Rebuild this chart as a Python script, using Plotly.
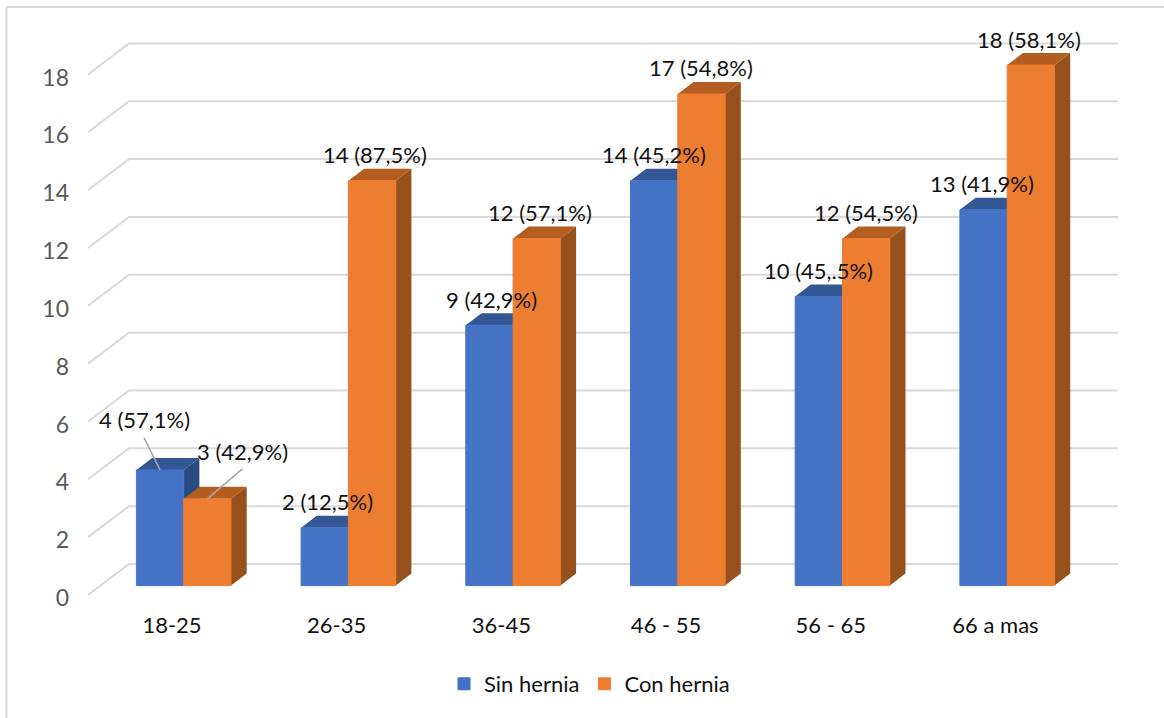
import plotly.graph_objects as go

# Chart data
categories = ["18-25", "26-35", "36-45", "46 - 55", "56 - 65", "66 a mas"]
sin_hernia = [4, 2, 9, 14, 10, 13]
con_hernia = [3, 14, 12, 17, 12, 18]
sin_labels = ["4 (57,1%)", "2 (12,5%)", "9 (42,9%)", "14 (45,2%)", "10 (45,.5%)", "13 (41,9%)"]
con_labels = ["3 (42,9%)", "14 (87,5%)", "12 (57,1%)", "17 (54,8%)", "12 (54,5%)", "18 (58,1%)"]
axis_ticks = [0, 2, 4, 6, 8, 10, 12, 14, 16, 18]

# Page geometry, in pixels
WIDTH, HEIGHT = 1164, 718
LEFT, RIGHT, TOP, BOTTOM = 72, 1150, 20, 608
PX_PER_CAT = 164.7
PX_PER_UNIT = 28.92
TICK_ZERO_X, TICK_ZERO_Y = 172, 598      # axis plane: category labels and value ticks
BAR_ZERO_X, BAR_ZERO_Y = 183.7, 585.6    # plane of the front of the bars
GRID_LIFT = 3 / PX_PER_UNIT              # wall lines start just above the tick label centres
BAR_W = 47.3 / PX_PER_CAT
DEPTH_X = 15.7 / PX_PER_CAT              # oblique depth of each bar
DEPTH_Y = 12 / PX_PER_UNIT
WALL_X = 41 / PX_PER_CAT                 # oblique depth of the side wall
WALL_Y = 31 / PX_PER_UNIT
WALL_END = (1118 - TICK_ZERO_X) / PX_PER_CAT

GRID = "#d9d9d9"
BLUE, BLUE_TOP, BLUE_SIDE = "#4472c4", "#335694", "#2a4b82"
ORANGE, ORANGE_TOP, ORANGE_SIDE = "#ed7d31", "#b45d20", "#96501c"
FONT = "Lato"
LABEL_SIZE = 22


def x_range(zero):
    return [(LEFT - zero) / PX_PER_CAT, (RIGHT - zero) / PX_PER_CAT]


def y_range(zero):
    return [(zero - BOTTOM) / PX_PER_UNIT, (zero - TOP) / PX_PER_UNIT]


def faces(values, shift):
    """Top and side polygons of one series, as two (x, y) paths."""
    top_x, top_y, side_x, side_y = [], [], [], []
    for i, v in enumerate(values):
        left = i + shift
        right = left + BAR_W
        top_x += [left, right, right + DEPTH_X, left + DEPTH_X, left, None]
        top_y += [v, v, v + DEPTH_Y, v + DEPTH_Y, v, None]
        side_x += [right, right, right + DEPTH_X, right + DEPTH_X, right, None]
        side_y += [0, v, v + DEPTH_Y, DEPTH_Y, 0, None]
    return (top_x, top_y), (side_x, side_y)


fig = go.Figure()

# Back wall and side wall lines
grid_x, grid_y = [], []
for t in axis_ticks:
    grid_x += [-(TICK_ZERO_X - 88) / PX_PER_CAT,
               -(TICK_ZERO_X - 88) / PX_PER_CAT + WALL_X, WALL_END, None]
    grid_y += [t + GRID_LIFT, t + GRID_LIFT + WALL_Y, t + GRID_LIFT + WALL_Y, None]
fig.add_trace(go.Scatter(x=grid_x, y=grid_y, mode="lines", line=dict(color=GRID, width=2),
                         hoverinfo="skip", showlegend=False))

# Oblique faces of the bars, sitting behind the fronts
for values, shift, top_c, side_c in [(sin_hernia, -BAR_W, BLUE_TOP, BLUE_SIDE),
                                     (con_hernia, 0, ORANGE_TOP, ORANGE_SIDE)]:
    top, side = faces(values, shift)
    for (px, py), colour in [(side, side_c), (top, top_c)]:
        fig.add_trace(go.Scatter(x=px, y=py, mode="lines", fill="toself", fillcolor=colour,
                                 line=dict(width=0), hoverinfo="skip", showlegend=False,
                                 xaxis="x2", yaxis="y2"))

# Bar fronts
fig.add_trace(go.Bar(name="Sin hernia", x=list(range(len(categories))), y=sin_hernia,
                     marker=dict(color=BLUE, line=dict(width=1, color=BLUE)),
                     xaxis="x3", yaxis="y3"))
fig.add_trace(go.Bar(name="Con hernia", x=list(range(len(categories))), y=con_hernia,
                     marker=dict(color=ORANGE, line=dict(width=1, color=ORANGE)),
                     xaxis="x3", yaxis="y3"))

# Leader lines for the two labels moved away from their bars
for x0, v, dx, dy in [(-BAR_W / 2, sin_hernia[0], -16, 32),
                      (BAR_W / 2, con_hernia[0], 35, 30)]:
    fig.add_trace(go.Scatter(x=[x0, x0 + dx / PX_PER_CAT], y=[v, v + dy / PX_PER_UNIT],
                             mode="lines", line=dict(color="#a6a6a6", width=1.5),
                             hoverinfo="skip", showlegend=False, xaxis="x3", yaxis="y3"))

# Data labels: pixel offsets from the top centre of each bar
sin_offsets = [(-16, -50), (2.5, -26), (2, -26), (0, -26), (0, -26), (-2, -26)]
con_offsets = [(35, -47), (3, -26), (3, -26), (0, -26), (0, -26), (-2, -26)]
annotations = []
for values, labels, offsets, centre in [(sin_hernia, sin_labels, sin_offsets, -BAR_W / 2),
                                        (con_hernia, con_labels, con_offsets, BAR_W / 2)]:
    for i, (v, text, (dx, dy)) in enumerate(zip(values, labels, offsets)):
        annotations.append(dict(x=i + centre, y=v, xref="x3", yref="y3", text=text,
                                showarrow=False, xanchor="center", yanchor="middle",
                                xshift=dx, yshift=-dy,
                                font=dict(family=FONT, size=LABEL_SIZE, color="#111111")))

hidden = dict(visible=False, autorange=False)
fig.update_layout(
    width=WIDTH, height=HEIGHT, autosize=False,
    margin=dict(l=LEFT, r=WIDTH - RIGHT, t=TOP, b=HEIGHT - BOTTOM, pad=0),
    paper_bgcolor="white", plot_bgcolor="white",
    barmode="group", bargap=1 - 2 * BAR_W, bargroupgap=0,
    font=dict(family=FONT, size=LABEL_SIZE),
    xaxis=dict(range=x_range(TICK_ZERO_X), tickmode="array",
               tickvals=list(range(len(categories))), ticktext=categories,
               showgrid=False, zeroline=False, showline=False, ticks="",
               ticklabelstandoff=2, tickfont=dict(color="#111111", size=LABEL_SIZE)),
    yaxis=dict(range=y_range(TICK_ZERO_Y), tickmode="array", tickvals=axis_ticks,
               showgrid=False, zeroline=False, showline=False, ticks="",
               ticklabelstandoff=2, tickfont=dict(color="#595959", size=LABEL_SIZE + 1)),
    xaxis2=dict(range=x_range(BAR_ZERO_X), overlaying="x", **hidden),
    yaxis2=dict(range=y_range(BAR_ZERO_Y), overlaying="y", **hidden),
    xaxis3=dict(range=x_range(BAR_ZERO_X), overlaying="x", **hidden),
    yaxis3=dict(range=y_range(BAR_ZERO_Y), overlaying="y", **hidden),
    legend=dict(orientation="h", xref="paper", yref="paper",
                x=(444 - LEFT) / (RIGHT - LEFT), xanchor="left",
                y=(BOTTOM - 684) / (BOTTOM - TOP), yanchor="middle",
                itemwidth=30, font=dict(family=FONT, size=LABEL_SIZE, color="#111111"),
                bgcolor="rgba(0,0,0,0)", itemclick=False, itemdoubleclick=False),
    annotations=annotations,
    shapes=[
        dict(type="line", xref="paper", yref="paper",
             x0=(6.5 - LEFT) / (RIGHT - LEFT), x1=(WIDTH - LEFT) / (RIGHT - LEFT),
             y0=(BOTTOM - 7) / (BOTTOM - TOP), y1=(BOTTOM - 7) / (BOTTOM - TOP),
             line=dict(color=GRID, width=2)),
        dict(type="line", xref="paper", yref="paper",
             x0=(6.5 - LEFT) / (RIGHT - LEFT), x1=(6.5 - LEFT) / (RIGHT - LEFT),
             y0=(BOTTOM - 7) / (BOTTOM - TOP), y1=(BOTTOM - HEIGHT) / (BOTTOM - TOP),
             line=dict(color=GRID, width=2)),
    ],
)

fig.write_html("out.html")
